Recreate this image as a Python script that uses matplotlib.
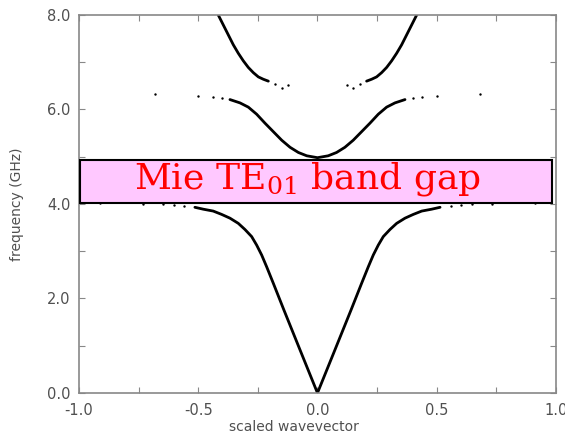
import numpy as np
import matplotlib
matplotlib.use("Agg")
import matplotlib.pyplot as plt
from matplotlib.patches import Rectangle
from matplotlib.ticker import MultipleLocator, FormatStrFormatter

plt.rcParams["mathtext.fontset"] = "dejavuserif"

# band 1 (lowest), positive-k half; mirrored for negative k
band1_k = [0.0, 0.073, 0.141, 0.185, 0.213, 0.234, 0.255, 0.276, 0.304,
           0.332, 0.367, 0.402, 0.437, 0.479, 0.514]
band1_f = [0.0, 0.91, 1.76, 2.32, 2.67, 2.92, 3.13, 3.31, 3.46,
           3.59, 3.70, 3.78, 3.85, 3.89, 3.93]
band1_dot_k = [0.56, 0.60, 0.647, 0.73, 0.912]
band1_dot_f = [3.96, 3.98, 3.99, 4.01, 4.02]

# band 2 (middle)
band2_k = [0.0, 0.045, 0.080, 0.115, 0.150, 0.185, 0.220, 0.255, 0.290,
           0.325, 0.367]
band2_f = [4.98, 5.02, 5.09, 5.20, 5.35, 5.53, 5.71, 5.90, 6.05,
           6.14, 6.21]
band2_dot_k = [0.40, 0.437, 0.50, 0.68]
band2_dot_f = [6.24, 6.26, 6.28, 6.32]

# band 3 (top)
band3_k = [0.206, 0.227, 0.248, 0.269, 0.290, 0.311, 0.332, 0.353,
           0.374, 0.395, 0.416]
band3_f = [6.60, 6.64, 6.69, 6.78, 6.89, 7.03, 7.19, 7.37,
           7.58, 7.79, 8.0]
band3_dot_k = [0.122, 0.15, 0.178]
band3_dot_f = [6.52, 6.46, 6.55]

gap_lo, gap_hi = 4.02, 4.93

fig = plt.figure(figsize=(5.65, 4.37), dpi=100)
ax = fig.add_axes([0.1398, 0.1007, 0.8442, 0.865])

line_kw = dict(color="black", lw=2.0, solid_capstyle="round",
               solid_joinstyle="round")
dot_kw = dict(color="black", s=3, marker="o", linewidths=0)

# band 1: one V-shaped curve through k=0
k1 = np.array(band1_k)
f1 = np.array(band1_f)
ax.plot(np.concatenate([-k1[::-1], k1[1:]]),
        np.concatenate([f1[::-1], f1[1:]]), **line_kw)
for s in (-1, 1):
    ax.scatter(s * np.array(band1_dot_k), band1_dot_f, **dot_kw)

# band 2
k2 = np.array(band2_k)
f2 = np.array(band2_f)
ax.plot(np.concatenate([-k2[::-1], k2[1:]]),
        np.concatenate([f2[::-1], f2[1:]]), **line_kw)
for s in (-1, 1):
    ax.scatter(s * np.array(band2_dot_k), band2_dot_f, **dot_kw)

# band 3: two separate branches
for s in (-1, 1):
    ax.plot(s * np.array(band3_k), band3_f, **line_kw)
    ax.scatter(s * np.array(band3_dot_k), band3_dot_f, **dot_kw)

# band gap box
ax.add_patch(Rectangle((-0.995, gap_lo), 1.98, gap_hi - gap_lo,
                       facecolor="#ffc8ff", edgecolor="black", lw=1.5,
                       zorder=3))
ax.text(-0.042, 4.32, r"Mie TE$_{01}$ band gap", color="red", fontsize=26,
        family="DejaVu Serif", ha="center", va="baseline", zorder=4)

ax.set_xlim(-1, 1)
ax.set_ylim(0, 8)
ax.xaxis.set_major_locator(MultipleLocator(0.5))
ax.xaxis.set_minor_locator(MultipleLocator(0.25))
ax.yaxis.set_major_locator(MultipleLocator(2))
ax.yaxis.set_minor_locator(MultipleLocator(1))
ax.xaxis.set_major_formatter(FormatStrFormatter("%.1f"))
ax.yaxis.set_major_formatter(FormatStrFormatter("%.1f"))
ax.tick_params(which="both", direction="in", top=True, right=True,
               length=4, width=0.8, color="#888888",
               labelsize=10.5, labelcolor="#505050")
ax.tick_params(axis="x", pad=7)
ax.tick_params(axis="y", pad=6)
for sp in ax.spines.values():
    sp.set_color("#888888")
    sp.set_linewidth(1.2)

ax.set_xlabel("scaled wavevector", fontsize=10, color="#505050")
ax.set_ylabel("frequency (GHz)", fontsize=10, color="#505050")
ax.xaxis.set_label_coords(0.45, -0.072)
ax.yaxis.set_label_coords(-0.115, 0.5)

fig.savefig("out.png", dpi=100)
